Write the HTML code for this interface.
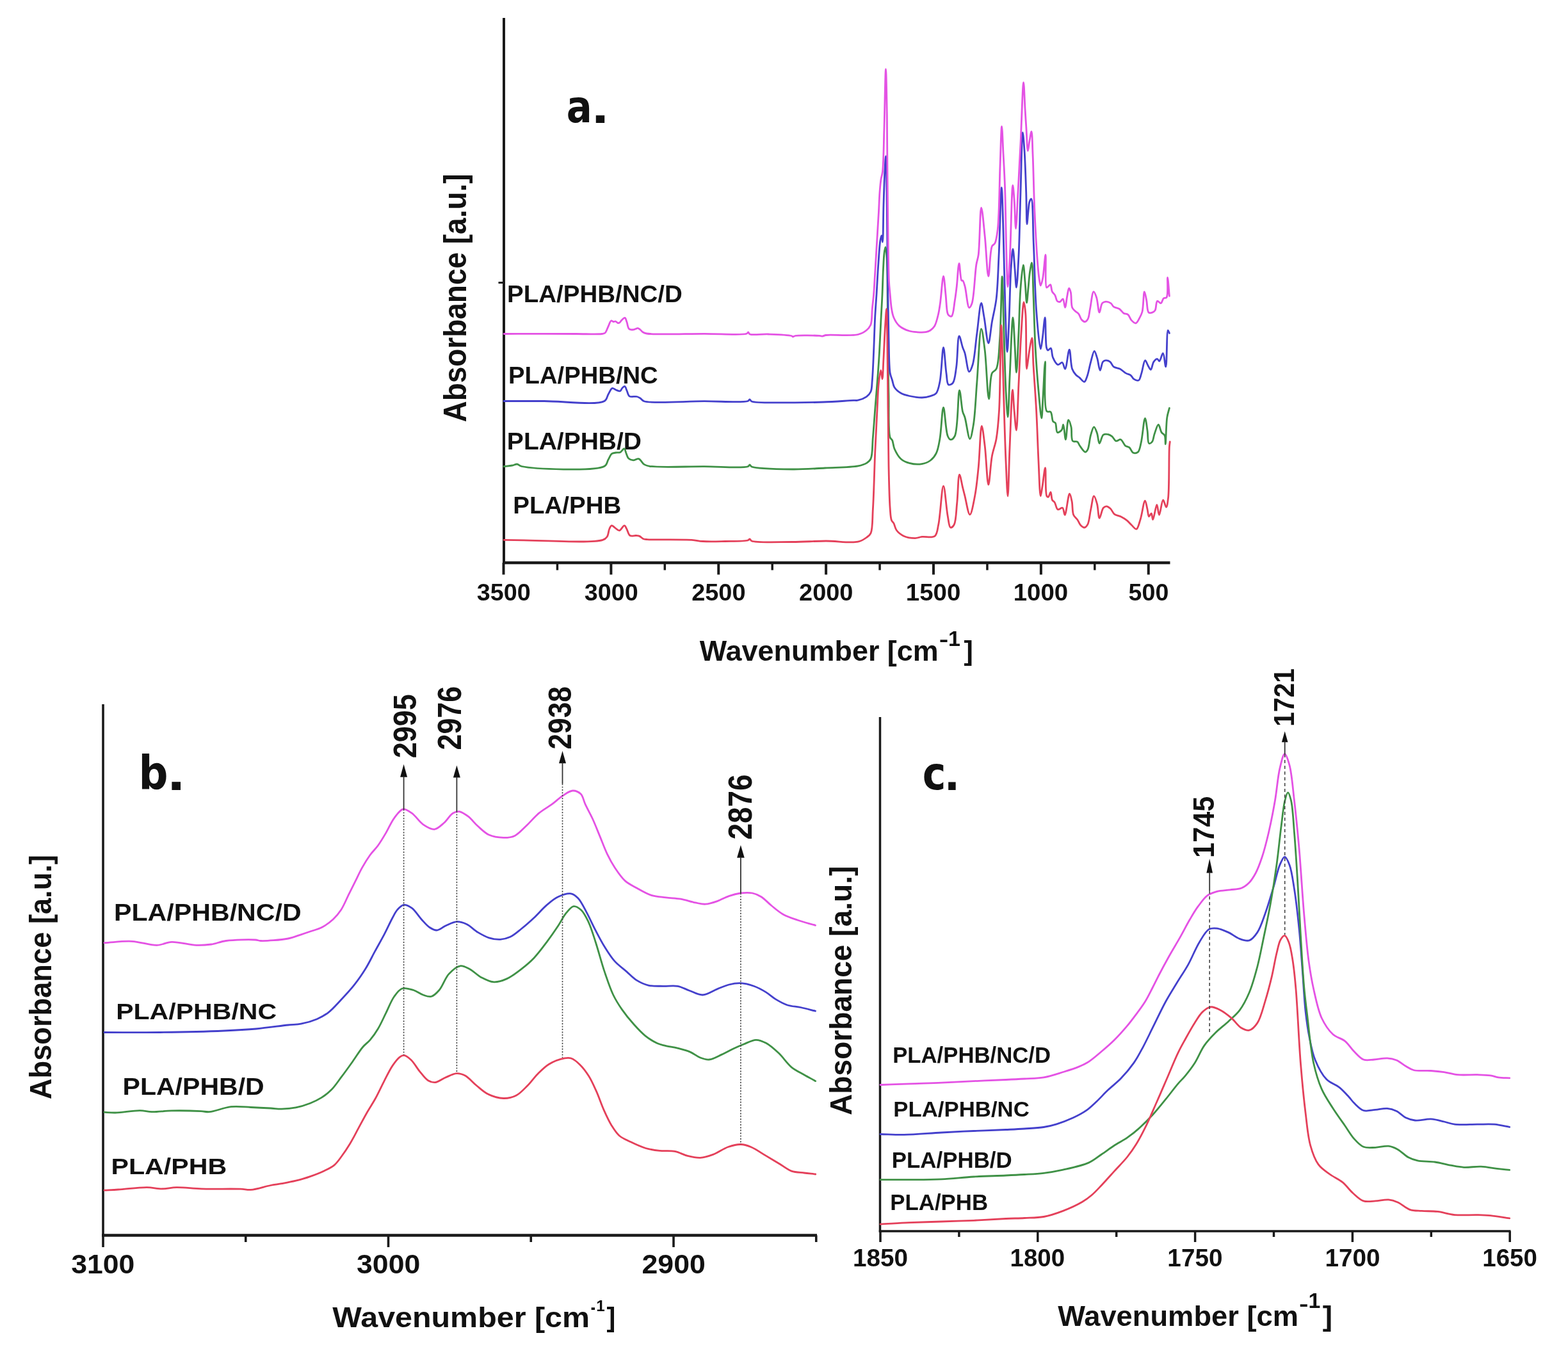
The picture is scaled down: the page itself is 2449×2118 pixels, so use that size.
<!DOCTYPE html>
<html><head><meta charset="utf-8"><title>FTIR spectra</title>
<style>html,body{margin:0;padding:0;background:#fff;}svg{display:block;}</style></head>
<body><svg width="2449" height="2118" viewBox="0 0 2449 2118" font-family="'Liberation Sans', sans-serif" font-weight="bold"><line x1="787.00" y1="28.00" x2="787.00" y2="881.00" stroke="#1a1a1a" stroke-width="4" />
<line x1="785.00" y1="879.00" x2="1827.50" y2="879.00" stroke="#1a1a1a" stroke-width="4.5" />
<line x1="778.50" y1="441.50" x2="787.00" y2="441.50" stroke="#1a1a1a" stroke-width="3" />
<line x1="786.50" y1="879.00" x2="786.50" y2="897.50" stroke="#1a1a1a" stroke-width="4" />
<line x1="954.38" y1="879.00" x2="954.38" y2="897.50" stroke="#1a1a1a" stroke-width="4" />
<line x1="1122.25" y1="879.00" x2="1122.25" y2="897.50" stroke="#1a1a1a" stroke-width="4" />
<line x1="1290.12" y1="879.00" x2="1290.12" y2="897.50" stroke="#1a1a1a" stroke-width="4" />
<line x1="1458.00" y1="879.00" x2="1458.00" y2="897.50" stroke="#1a1a1a" stroke-width="4" />
<line x1="1625.88" y1="879.00" x2="1625.88" y2="897.50" stroke="#1a1a1a" stroke-width="4" />
<line x1="1793.75" y1="879.00" x2="1793.75" y2="897.50" stroke="#1a1a1a" stroke-width="4" />
<line x1="870.44" y1="879.00" x2="870.44" y2="890.50" stroke="#1a1a1a" stroke-width="3.5" />
<line x1="1038.31" y1="879.00" x2="1038.31" y2="890.50" stroke="#1a1a1a" stroke-width="3.5" />
<line x1="1206.19" y1="879.00" x2="1206.19" y2="890.50" stroke="#1a1a1a" stroke-width="3.5" />
<line x1="1374.06" y1="879.00" x2="1374.06" y2="890.50" stroke="#1a1a1a" stroke-width="3.5" />
<line x1="1541.94" y1="879.00" x2="1541.94" y2="890.50" stroke="#1a1a1a" stroke-width="3.5" />
<line x1="1709.81" y1="879.00" x2="1709.81" y2="890.50" stroke="#1a1a1a" stroke-width="3.5" />
<text x="744.88" y="937.78" font-size="37.21" textLength="83.91" lengthAdjust="spacingAndGlyphs" fill="#111">3500</text>
<text x="912.76" y="937.78" font-size="37.21" textLength="83.91" lengthAdjust="spacingAndGlyphs" fill="#111">3000</text>
<text x="1080.19" y="937.84" font-size="37.29" textLength="84.37" lengthAdjust="spacingAndGlyphs" fill="#111">2500</text>
<text x="1248.06" y="937.84" font-size="37.29" textLength="84.37" lengthAdjust="spacingAndGlyphs" fill="#111">2000</text>
<text x="1414.83" y="937.84" font-size="37.29" textLength="85.50" lengthAdjust="spacingAndGlyphs" fill="#111">1500</text>
<text x="1582.70" y="937.84" font-size="37.29" textLength="85.50" lengthAdjust="spacingAndGlyphs" fill="#111">1000</text>
<text x="1762.59" y="937.84" font-size="37.29" textLength="62.70" lengthAdjust="spacingAndGlyphs" fill="#111">500</text>
<line x1="161.00" y1="1100.00" x2="161.00" y2="1931.00" stroke="#1a1a1a" stroke-width="3.6" />
<line x1="159.00" y1="1929.50" x2="1276.00" y2="1929.50" stroke="#1a1a1a" stroke-width="4.6" />
<line x1="161.00" y1="1929.50" x2="161.00" y2="1948.00" stroke="#1a1a1a" stroke-width="3.6" />
<line x1="606.50" y1="1929.50" x2="606.50" y2="1948.00" stroke="#1a1a1a" stroke-width="3.6" />
<line x1="1052.00" y1="1929.50" x2="1052.00" y2="1948.00" stroke="#1a1a1a" stroke-width="3.6" />
<line x1="383.75" y1="1929.50" x2="383.75" y2="1940.00" stroke="#1a1a1a" stroke-width="3.6" />
<line x1="829.25" y1="1929.50" x2="829.25" y2="1940.00" stroke="#1a1a1a" stroke-width="3.6" />
<line x1="1274.75" y1="1929.50" x2="1274.75" y2="1940.00" stroke="#1a1a1a" stroke-width="3.6" />
<text x="111.18" y="1988.53" font-size="41.72" textLength="99.15" lengthAdjust="spacingAndGlyphs" fill="#111">3100</text>
<text x="556.98" y="1988.53" font-size="41.72" textLength="99.36" lengthAdjust="spacingAndGlyphs" fill="#111">3000</text>
<text x="1002.45" y="1988.59" font-size="41.81" textLength="99.38" lengthAdjust="spacingAndGlyphs" fill="#111">2900</text>
<line x1="1374.50" y1="1120.00" x2="1374.50" y2="1924.50" stroke="#1a1a1a" stroke-width="3.5" />
<line x1="1372.80" y1="1923.00" x2="2359.50" y2="1923.00" stroke="#1a1a1a" stroke-width="3.5" />
<line x1="1375.00" y1="1923.00" x2="1375.00" y2="1940.00" stroke="#1a1a1a" stroke-width="3.5" />
<line x1="1620.80" y1="1923.00" x2="1620.80" y2="1940.00" stroke="#1a1a1a" stroke-width="3.5" />
<line x1="1866.60" y1="1923.00" x2="1866.60" y2="1940.00" stroke="#1a1a1a" stroke-width="3.5" />
<line x1="2112.40" y1="1923.00" x2="2112.40" y2="1940.00" stroke="#1a1a1a" stroke-width="3.5" />
<line x1="2358.20" y1="1923.00" x2="2358.20" y2="1940.00" stroke="#1a1a1a" stroke-width="3.5" />
<line x1="1497.90" y1="1923.00" x2="1497.90" y2="1932.00" stroke="#1a1a1a" stroke-width="3.5" />
<line x1="1743.70" y1="1923.00" x2="1743.70" y2="1932.00" stroke="#1a1a1a" stroke-width="3.5" />
<line x1="1989.50" y1="1923.00" x2="1989.50" y2="1932.00" stroke="#1a1a1a" stroke-width="3.5" />
<line x1="2235.30" y1="1923.00" x2="2235.30" y2="1932.00" stroke="#1a1a1a" stroke-width="3.5" />
<text x="1331.96" y="1978.42" font-size="38.42" textLength="86.13" lengthAdjust="spacingAndGlyphs" fill="#111">1850</text>
<text x="1577.58" y="1978.42" font-size="38.42" textLength="85.60" lengthAdjust="spacingAndGlyphs" fill="#111">1800</text>
<text x="1823.36" y="1978.42" font-size="38.42" textLength="86.13" lengthAdjust="spacingAndGlyphs" fill="#111">1750</text>
<text x="2069.56" y="1978.42" font-size="38.42" textLength="86.02" lengthAdjust="spacingAndGlyphs" fill="#111">1700</text>
<text x="2315.28" y="1978.42" font-size="38.42" textLength="85.60" lengthAdjust="spacingAndGlyphs" fill="#111">1650</text>
<text x="884.86" y="191.31" font-size="70.01" font-family="'DejaVu Sans Condensed', 'DejaVu Sans', sans-serif" textLength="39.97" lengthAdjust="spacingAndGlyphs" fill="#111">a</text>
<text x="922.92" y="192.30" font-size="62.97" font-family="'DejaVu Sans Condensed', 'DejaVu Sans', sans-serif" textLength="28.95" lengthAdjust="spacingAndGlyphs" fill="#111">.</text>
<text x="216.40" y="1232.76" font-size="73.65" font-family="'DejaVu Sans Condensed', 'DejaVu Sans', sans-serif" textLength="45.96" lengthAdjust="spacingAndGlyphs" fill="#111">b</text>
<text x="260.41" y="1233.80" font-size="67.74" font-family="'DejaVu Sans Condensed', 'DejaVu Sans', sans-serif" textLength="29.38" lengthAdjust="spacingAndGlyphs" fill="#111">.</text>
<text x="1440.85" y="1233.28" font-size="71.92" font-family="'DejaVu Sans Condensed', 'DejaVu Sans', sans-serif" textLength="36.69" lengthAdjust="spacingAndGlyphs" fill="#111">c</text>
<text x="1474.63" y="1234.30" font-size="66.68" font-family="'DejaVu Sans Condensed', 'DejaVu Sans', sans-serif" textLength="24.85" lengthAdjust="spacingAndGlyphs" fill="#111">.</text>
<g transform="rotate(-90)"><text x="-659.54" y="728.00" font-size="49.42" textLength="388.12" lengthAdjust="spacingAndGlyphs" fill="#111">Absorbance [a.u.]</text></g>
<g transform="rotate(-90)"><text x="-1717.13" y="80.40" font-size="48.69" textLength="382.07" lengthAdjust="spacingAndGlyphs" fill="#111">Absorbance [a.u.]</text></g>
<g transform="rotate(-90)"><text x="-1741.95" y="1329.80" font-size="47.68" textLength="389.34" lengthAdjust="spacingAndGlyphs" fill="#111">Absorbance [a.u.]</text></g>
<text x="1092.86" y="1032.20" font-size="45.20" textLength="372.92" lengthAdjust="spacingAndGlyphs" fill="#111">Wavenumber [cm</text>
<text x="1466.79" y="1009.27" font-size="31.90" textLength="14.56" lengthAdjust="spacingAndGlyphs" fill="#111">-</text>
<text x="1490.50" y="1008.90" font-size="34.01" text-anchor="middle" fill="#111">1</text>
<text x="1505.47" y="1030.71" font-size="42.38" textLength="14.34" lengthAdjust="spacingAndGlyphs" fill="#111">]</text>
<text x="519.35" y="2073.30" font-size="45.20" textLength="401.64" lengthAdjust="spacingAndGlyphs" fill="#111">Wavenumber [cm</text>
<text x="922.65" y="2051.57" font-size="31.90" textLength="7.21" lengthAdjust="spacingAndGlyphs" fill="#111">-</text>
<text x="937.95" y="2047.70" font-size="24.27" text-anchor="middle" fill="#111">1</text>
<text x="947.49" y="2072.09" font-size="42.91" textLength="13.84" lengthAdjust="spacingAndGlyphs" fill="#111">]</text>
<text x="1652.16" y="2071.10" font-size="45.20" textLength="375.84" lengthAdjust="spacingAndGlyphs" fill="#111">Wavenumber [cm</text>
<text x="2029.09" y="2047.17" font-size="31.90" textLength="14.56" lengthAdjust="spacingAndGlyphs" fill="#111">-</text>
<text x="2052.95" y="2043.30" font-size="33.87" text-anchor="middle" fill="#111">1</text>
<text x="2065.74" y="2070.87" font-size="43.99" textLength="15.35" lengthAdjust="spacingAndGlyphs" fill="#111">]</text>
<text x="792.13" y="472.00" font-size="37.50" textLength="273.69" lengthAdjust="spacingAndGlyphs" fill="#111">PLA/PHB/NC/D</text>
<text x="794.14" y="598.90" font-size="37.50" textLength="233.60" lengthAdjust="spacingAndGlyphs" fill="#111">PLA/PHB/NC</text>
<text x="791.89" y="702.20" font-size="36.92" textLength="210.15" lengthAdjust="spacingAndGlyphs" fill="#111">PLA/PHB/D</text>
<text x="801.32" y="802.00" font-size="36.48" textLength="169.02" lengthAdjust="spacingAndGlyphs" fill="#111">PLA/PHB</text>
<text x="178.05" y="1438.30" font-size="36.63" textLength="292.58" lengthAdjust="spacingAndGlyphs" fill="#111">PLA/PHB/NC/D</text>
<text x="181.15" y="1592.30" font-size="35.90" textLength="250.97" lengthAdjust="spacingAndGlyphs" fill="#111">PLA/PHB/NC</text>
<text x="191.55" y="1709.80" font-size="36.48" textLength="221.17" lengthAdjust="spacingAndGlyphs" fill="#111">PLA/PHB/D</text>
<text x="173.45" y="1833.70" font-size="35.90" textLength="180.72" lengthAdjust="spacingAndGlyphs" fill="#111">PLA/PHB</text>
<text x="1394.18" y="1660.20" font-size="34.16" textLength="246.88" lengthAdjust="spacingAndGlyphs" fill="#111">PLA/PHB/NC/D</text>
<text x="1395.27" y="1743.90" font-size="34.01" textLength="212.58" lengthAdjust="spacingAndGlyphs" fill="#111">PLA/PHB/NC</text>
<text x="1392.77" y="1824.30" font-size="35.32" textLength="188.00" lengthAdjust="spacingAndGlyphs" fill="#111">PLA/PHB/D</text>
<text x="1390.27" y="1890.40" font-size="35.18" textLength="152.91" lengthAdjust="spacingAndGlyphs" fill="#111">PLA/PHB</text>
<g transform="rotate(-90)"><text x="-1184.16" y="650.01" font-size="50.56" textLength="99.91" lengthAdjust="spacingAndGlyphs" fill="#111">2995</text></g>
<g transform="rotate(-90)"><text x="-1171.45" y="720.10" font-size="51.69" textLength="99.57" lengthAdjust="spacingAndGlyphs" fill="#111">2976</text></g>
<g transform="rotate(-90)"><text x="-1170.53" y="892.05" font-size="49.33" textLength="98.39" lengthAdjust="spacingAndGlyphs" fill="#111">2938</text></g>
<g transform="rotate(-90)"><text x="-1311.49" y="1174.20" font-size="51.13" textLength="101.94" lengthAdjust="spacingAndGlyphs" fill="#111">2876</text></g>
<g transform="rotate(-90)"><text x="-1339.92" y="1895.75" font-size="46.15" textLength="96.23" lengthAdjust="spacingAndGlyphs" fill="#111">1745</text></g>
<g transform="rotate(-90)"><text x="-1134.87" y="2021.40" font-size="43.54" textLength="90.91" lengthAdjust="spacingAndGlyphs" fill="#111">1721</text></g>
<path d="M787.0,728.5 C791.3,728.0 796.3,727.7 800.0,727.0 C802.9,726.5 805.1,724.8 807.6,725.0 C810.1,725.2 810.9,727.6 815.0,728.5 C831.5,732.2 928.9,737.0 944.0,728.3 C948.6,725.7 948.0,721.3 950.0,718.0 C951.9,714.8 953.2,710.5 955.6,708.7 C957.4,707.3 959.8,707.4 962.0,707.0 C964.2,706.6 966.6,707.4 968.6,706.5 C970.9,705.5 973.4,700.3 975.0,700.7 C976.5,701.0 976.9,705.5 978.0,708.0 C979.1,710.6 979.8,714.2 981.7,716.0 C983.5,717.7 986.4,718.7 989.0,718.9 C991.7,719.1 994.9,715.9 997.6,716.7 C1000.7,717.6 1002.9,723.5 1006.0,725.4 C1008.8,727.1 1010.4,727.6 1015.0,728.3 C1028.8,730.5 1073.2,728.6 1100.0,728.7 C1123.9,728.8 1160.3,731.7 1168.0,728.7 C1169.9,728.0 1170.0,726.0 1171.0,726.0 C1172.0,726.0 1172.1,728.1 1174.0,729.0 C1181.4,732.4 1217.6,732.8 1237.6,733.0 C1255.5,733.2 1271.6,731.8 1288.6,731.0 C1305.7,730.1 1328.5,730.1 1340.0,727.9 C1346.0,726.7 1349.9,725.6 1353.4,723.4 C1356.2,721.6 1358.4,720.2 1360.0,716.7 C1363.1,710.1 1362.3,695.2 1363.4,683.2 C1364.6,669.4 1365.6,654.3 1366.8,638.6 C1368.2,621.0 1370.1,599.0 1371.3,582.8 C1372.2,570.2 1372.8,561.3 1373.5,549.3 C1374.3,535.5 1374.9,519.5 1375.7,504.6 C1376.4,489.7 1377.4,474.5 1378.0,460.0 C1378.6,446.3 1378.9,431.6 1379.5,420.0 C1380.0,411.0 1380.2,402.3 1381.0,396.0 C1381.5,391.9 1382.4,386.0 1383.0,386.0 C1383.8,386.0 1384.5,394.4 1385.0,402.0 C1386.3,420.8 1386.0,465.9 1386.5,500.0 C1387.0,537.1 1387.2,582.8 1388.0,616.2 C1388.6,641.6 1387.0,674.2 1390.2,683.2 C1391.1,685.8 1392.6,685.7 1393.6,687.7 C1395.1,690.9 1395.1,696.5 1397.0,701.0 C1399.3,706.2 1402.8,712.9 1407.0,716.7 C1410.8,720.1 1415.4,722.0 1420.4,723.4 C1426.2,725.0 1434.2,725.6 1440.0,724.6 C1445.0,723.8 1449.7,721.8 1453.4,719.0 C1457.1,716.2 1460.0,712.6 1462.3,707.9 C1465.2,702.0 1466.3,694.5 1467.9,685.5 C1470.3,672.4 1471.4,636.4 1473.5,636.4 C1475.5,636.4 1476.9,673.4 1480.2,681.0 C1481.5,684.1 1482.9,686.5 1484.6,686.7 C1486.5,686.9 1489.4,684.6 1491.3,681.0 C1496.6,670.8 1496.1,609.7 1498.5,609.6 C1500.2,609.6 1501.6,635.6 1503.6,643.1 C1504.7,647.1 1505.8,648.0 1507.0,652.0 C1509.3,659.5 1512.4,685.5 1514.8,685.5 C1516.8,685.5 1518.8,672.7 1520.4,663.2 C1523.1,647.0 1524.0,619.8 1525.9,596.3 C1528.0,570.2 1529.9,513.8 1532.6,513.7 C1534.3,513.6 1536.5,533.7 1538.2,547.1 C1540.7,567.2 1542.3,623.0 1544.5,623.0 C1546.1,623.0 1545.8,590.4 1549.4,582.9 C1551.2,579.3 1554.3,579.9 1556.1,576.2 C1560.1,567.9 1560.2,547.8 1561.6,529.3 C1563.6,502.7 1564.1,431.8 1565.2,431.8 C1566.2,431.8 1567.0,490.5 1568.0,520.0 C1569.0,549.8 1569.7,585.8 1571.0,610.0 C1571.9,626.5 1573.2,651.4 1574.1,651.4 C1575.2,651.4 1575.9,612.6 1577.0,590.0 C1578.4,562.0 1580.5,496.0 1582.0,496.0 C1583.1,496.0 1584.1,525.5 1585.0,540.0 C1585.9,554.1 1586.6,581.8 1587.5,581.8 C1588.6,581.8 1589.9,541.2 1591.0,520.0 C1592.1,497.4 1592.4,469.5 1594.0,450.0 C1595.1,436.0 1597.0,414.0 1598.2,414.0 C1599.3,414.0 1600.1,430.8 1601.0,440.0 C1602.0,450.3 1602.7,472.9 1603.6,472.9 C1604.4,472.9 1605.2,457.8 1606.0,450.0 C1606.8,441.9 1607.4,432.2 1608.5,425.0 C1609.4,419.5 1610.8,410.3 1611.6,410.4 C1613.1,410.5 1613.2,441.5 1614.0,460.0 C1615.0,483.6 1615.6,514.8 1617.0,540.7 C1618.3,564.7 1620.1,589.6 1622.0,610.0 C1623.5,626.1 1625.6,653.2 1626.8,653.2 C1627.8,653.2 1628.2,632.5 1629.0,620.0 C1630.0,604.0 1631.5,565.0 1632.4,565.0 C1633.5,565.0 1629.1,635.5 1634.9,642.3 C1636.5,644.2 1639.5,642.0 1641.0,643.5 C1643.4,645.8 1642.8,655.5 1644.7,658.2 C1645.7,659.7 1647.4,659.2 1648.4,660.7 C1650.2,663.4 1649.2,674.4 1651.5,675.4 C1653.1,676.1 1656.7,673.6 1658.2,671.7 C1659.9,669.6 1659.9,663.0 1660.7,663.1 C1662.0,663.2 1663.2,686.5 1664.4,686.5 C1665.8,686.5 1666.7,656.0 1668.7,655.8 C1669.9,655.7 1671.9,662.4 1673.0,666.8 C1674.5,672.8 1672.4,685.7 1675.4,688.9 C1677.1,690.7 1680.9,688.9 1682.8,690.2 C1684.6,691.4 1684.9,694.1 1686.5,696.3 C1688.7,699.3 1692.8,706.0 1695.1,706.1 C1696.6,706.1 1697.7,704.4 1698.8,702.4 C1701.1,698.1 1701.7,685.6 1703.7,679.1 C1705.2,674.3 1706.9,666.9 1708.6,666.8 C1710.2,666.7 1712.1,672.9 1713.5,676.7 C1715.1,681.3 1715.5,692.4 1717.2,692.6 C1718.8,692.8 1720.4,681.1 1723.3,679.1 C1725.3,677.7 1728.4,678.0 1730.7,678.5 C1732.9,678.9 1734.9,680.1 1736.8,681.6 C1739.1,683.4 1740.6,688.2 1743.0,688.9 C1745.2,689.5 1748.1,685.8 1750.3,686.5 C1753.1,687.4 1755.1,694.3 1757.7,696.3 C1759.6,697.8 1761.9,697.3 1763.8,698.8 C1766.1,700.6 1767.5,706.3 1770.0,707.3 C1772.1,708.2 1775.4,707.7 1777.3,706.1 C1780.1,703.8 1780.7,697.5 1782.2,691.4 C1784.6,681.7 1786.5,653.3 1788.4,653.3 C1789.7,653.3 1791.1,666.4 1792.1,673.0 C1793.1,679.5 1792.2,691.3 1794.5,692.6 C1795.7,693.3 1798.1,691.7 1799.4,690.2 C1801.4,687.8 1801.6,682.1 1803.1,677.9 C1804.8,673.2 1807.4,663.1 1809.3,663.1 C1811.0,663.1 1812.2,672.4 1814.2,675.4 C1815.6,677.6 1818.0,678.0 1819.1,680.3 C1820.6,683.5 1819.9,693.8 1820.3,693.8 C1821.0,693.8 1821.2,662.4 1822.8,652.1 C1823.7,645.9 1825.2,642.3 1826.4,637.4" fill="none" stroke="#3f9146" stroke-width="2.8" stroke-linejoin="round" stroke-linecap="round"/>
<path d="M787.0,626.5 C808.0,626.5 826.9,626.5 850.0,626.5 C878.2,626.5 931.6,633.7 944.0,626.5 C948.4,623.9 947.9,619.4 950.0,616.0 C952.0,612.7 953.9,607.1 956.3,606.4 C958.1,605.9 960.0,608.3 962.0,609.0 C964.1,609.8 966.9,611.4 968.6,610.8 C970.2,610.2 970.7,607.2 972.0,606.0 C973.2,604.9 974.8,603.2 975.9,603.5 C977.3,603.9 977.9,607.7 979.0,610.0 C980.3,612.7 980.6,617.2 983.0,618.8 C985.6,620.6 991.6,618.7 994.7,619.5 C996.9,620.1 998.2,620.9 1000.0,622.0 C1002.0,623.2 1002.5,625.5 1006.0,626.7 C1018.4,631.0 1071.2,626.7 1100.0,626.7 C1124.5,626.7 1160.3,629.3 1168.0,626.5 C1169.9,625.8 1170.0,624.0 1171.0,624.0 C1172.0,624.0 1172.1,626.2 1174.0,627.0 C1181.2,630.1 1215.6,628.7 1235.0,628.8 C1252.8,628.9 1269.4,628.6 1286.0,628.0 C1302.0,627.4 1324.3,625.8 1333.0,625.4 C1336.4,625.3 1337.4,625.8 1340.0,625.2 C1343.8,624.4 1349.9,622.1 1353.4,619.6 C1356.3,617.5 1358.5,615.2 1360.0,611.8 C1362.0,607.3 1361.6,601.3 1362.3,594.0 C1363.3,582.5 1363.9,565.0 1364.6,549.3 C1365.4,531.7 1365.9,509.7 1366.8,493.5 C1367.5,480.9 1368.2,472.3 1369.0,460.0 C1369.9,445.0 1370.9,425.2 1372.0,410.0 C1372.9,397.3 1373.7,382.2 1375.0,375.0 C1375.6,371.7 1376.4,368.0 1377.0,368.0 C1377.7,368.0 1378.1,378.0 1378.5,378.0 C1379.5,377.9 1379.4,339.1 1380.0,320.0 C1380.6,301.4 1381.2,279.0 1382.0,265.0 C1382.5,256.3 1383.1,244.0 1383.5,244.0 C1384.2,244.0 1384.6,277.1 1385.0,300.0 C1385.7,336.2 1385.9,398.9 1386.5,440.0 C1387.0,472.4 1387.3,501.2 1388.0,527.0 C1388.6,547.7 1388.3,571.4 1390.2,582.8 C1391.1,588.0 1392.5,590.3 1393.6,594.0 C1394.7,597.7 1394.9,601.8 1397.0,605.0 C1399.2,608.5 1403.2,611.8 1407.0,614.0 C1410.9,616.3 1415.4,617.4 1420.4,618.5 C1426.3,619.8 1434.1,621.1 1440.0,621.0 C1444.9,620.9 1449.5,619.9 1453.4,618.6 C1456.8,617.5 1460.0,616.8 1462.3,614.1 C1465.4,610.4 1466.3,603.9 1467.9,596.3 C1470.6,583.3 1471.7,542.7 1473.5,542.7 C1475.1,542.7 1476.4,572.2 1478.0,582.9 C1479.1,590.0 1478.7,599.1 1481.3,600.7 C1482.9,601.7 1486.2,600.5 1488.0,598.5 C1491.4,594.8 1492.1,583.6 1493.6,573.9 C1495.7,560.4 1495.6,525.1 1498.0,524.8 C1499.5,524.6 1501.9,537.8 1503.6,542.7 C1504.8,546.2 1505.8,547.7 1507.0,551.6 C1509.1,558.4 1511.1,580.3 1513.7,580.6 C1515.4,580.8 1517.6,574.7 1519.2,569.5 C1522.4,559.1 1523.6,536.6 1525.9,520.4 C1528.1,504.6 1530.4,473.6 1532.6,473.5 C1534.1,473.5 1535.5,487.3 1537.1,495.8 C1539.2,507.2 1541.7,536.0 1543.8,536.0 C1545.7,536.0 1547.4,513.8 1549.4,502.5 C1551.5,490.8 1554.4,480.6 1556.1,466.8 C1558.4,448.1 1558.8,424.9 1560.0,400.0 C1561.6,368.5 1563.0,293.0 1564.3,293.0 C1565.3,293.0 1566.2,334.4 1567.0,360.0 C1568.1,394.2 1568.8,445.4 1570.0,480.0 C1570.9,506.3 1572.1,549.6 1573.2,549.6 C1574.1,549.6 1575.1,518.5 1576.0,500.0 C1577.1,476.5 1577.6,440.4 1579.0,420.0 C1579.9,407.2 1581.0,389.0 1582.0,389.0 C1583.0,389.0 1584.1,409.8 1585.0,420.0 C1585.9,429.8 1586.6,449.0 1587.5,449.0 C1588.6,449.0 1590.0,419.2 1591.0,400.0 C1592.4,372.6 1592.9,332.7 1594.0,300.0 C1595.0,268.4 1595.9,207.0 1597.3,207.0 C1598.1,207.0 1599.2,223.7 1600.0,235.0 C1601.2,252.2 1602.0,279.7 1602.7,300.0 C1603.3,317.8 1603.2,350.0 1604.0,350.0 C1604.5,350.0 1605.3,336.2 1606.0,330.0 C1606.6,324.6 1606.8,318.4 1608.0,315.0 C1608.7,313.0 1609.9,310.5 1610.7,310.7 C1613.6,311.4 1613.1,354.5 1614.3,380.0 C1615.8,411.3 1616.3,454.5 1618.6,484.6 C1620.3,507.5 1623.4,544.9 1625.3,545.0 C1626.3,545.0 1627.1,536.0 1628.0,530.0 C1629.4,520.9 1631.1,495.9 1632.2,495.9 C1633.4,495.9 1632.6,535.6 1634.5,542.8 C1635.1,545.1 1635.6,546.9 1636.7,547.2 C1637.8,547.5 1640.0,543.5 1641.2,543.9 C1643.1,544.6 1642.6,554.0 1644.5,558.4 C1646.3,562.6 1649.5,568.9 1652.3,569.6 C1654.4,570.1 1657.2,565.6 1659.0,566.2 C1661.2,567.0 1662.1,576.4 1663.5,576.3 C1665.9,576.1 1668.3,546.0 1670.2,546.1 C1672.0,546.2 1672.1,569.4 1674.6,576.3 C1676.1,580.4 1678.1,582.9 1680.2,585.2 C1681.9,587.1 1683.8,588.0 1685.8,589.6 C1688.2,591.6 1691.5,596.7 1693.6,596.3 C1695.6,595.9 1696.7,591.1 1698.1,587.4 C1700.2,581.7 1701.7,572.0 1703.7,565.1 C1705.4,559.1 1707.4,548.4 1709.2,548.3 C1710.7,548.3 1712.3,555.2 1713.7,559.5 C1715.4,564.9 1716.6,578.4 1718.2,578.5 C1719.6,578.6 1720.5,567.5 1722.6,565.1 C1723.9,563.6 1725.4,563.0 1727.1,562.9 C1729.1,562.8 1731.9,563.7 1733.8,565.1 C1736.1,566.8 1736.9,571.0 1739.4,572.9 C1742.0,574.8 1746.3,574.7 1749.4,576.3 C1752.6,578.0 1755.3,581.2 1758.3,582.9 C1760.9,584.4 1764.1,584.7 1766.2,586.3 C1768.1,587.8 1768.7,590.6 1770.6,591.9 C1772.7,593.3 1776.4,595.1 1778.4,594.1 C1780.8,592.9 1781.4,587.2 1782.9,582.9 C1784.8,577.2 1786.4,563.2 1788.5,562.9 C1789.9,562.7 1791.4,568.2 1792.9,570.7 C1794.3,573.0 1796.0,577.6 1797.4,577.4 C1799.1,577.2 1799.8,568.0 1801.9,565.1 C1803.4,562.9 1805.9,560.5 1807.5,560.6 C1808.8,560.7 1809.7,564.2 1810.8,564.0 C1812.7,563.7 1814.8,551.5 1816.4,551.7 C1818.4,551.9 1819.6,573.0 1820.8,572.9 C1822.7,572.8 1822.0,516.4 1824.2,516.0 C1824.8,515.9 1825.7,518.9 1826.4,520.4" fill="none" stroke="#4440cc" stroke-width="2.8" stroke-linejoin="round" stroke-linecap="round"/>
<path d="M787.0,521.5 C808.0,521.4 830.2,521.3 850.0,521.3 C867.6,521.3 884.3,521.5 900.0,521.5 C914.1,521.5 933.1,522.5 940.0,521.5 C942.5,521.1 943.5,521.2 945.0,520.0 C947.1,518.2 948.4,513.2 950.0,510.0 C951.5,506.9 952.8,501.6 954.5,501.0 C955.6,500.6 956.8,502.3 958.0,502.5 C959.1,502.7 960.4,501.7 961.5,502.0 C962.7,502.3 963.9,504.3 965.0,504.5 C965.9,504.7 966.8,504.5 967.6,504.0 C968.8,503.3 969.7,501.2 971.0,500.0 C972.4,498.7 974.7,496.1 976.0,496.4 C977.4,496.8 978.0,500.5 979.0,503.0 C980.2,506.0 980.3,511.5 982.3,513.4 C983.8,514.9 986.7,515.0 988.5,515.0 C989.8,515.0 990.8,514.4 992.0,514.0 C993.3,513.6 994.9,512.4 996.2,512.6 C997.5,512.8 998.8,514.0 1000.0,515.0 C1001.4,516.1 1002.4,517.8 1004.0,518.8 C1005.7,519.9 1006.7,520.4 1010.0,521.0 C1022.2,523.2 1072.3,521.3 1100.0,521.3 C1123.7,521.3 1158.7,524.0 1166.0,521.3 C1167.7,520.7 1167.9,518.9 1168.7,519.0 C1169.5,519.1 1169.5,521.3 1171.0,522.0 C1175.1,524.0 1189.8,521.6 1200.0,522.0 C1211.4,522.4 1230.9,523.0 1236.0,524.5 C1237.5,524.9 1237.7,526.0 1238.7,526.0 C1239.7,526.0 1240.2,524.9 1242.0,524.5 C1247.7,523.3 1272.9,524.0 1279.7,524.4 C1282.3,524.5 1283.3,525.2 1285.0,525.0 C1286.7,524.8 1287.4,523.9 1290.0,523.5 C1298.0,522.2 1328.8,525.3 1340.0,522.5 C1346.1,521.0 1350.0,518.7 1353.4,515.8 C1356.4,513.3 1358.5,510.9 1360.0,506.9 C1362.3,501.0 1361.5,490.3 1362.3,482.3 C1363.0,474.7 1363.9,468.0 1364.6,460.0 C1365.4,450.7 1365.8,441.3 1366.5,430.0 C1367.4,415.5 1368.5,396.7 1369.5,380.0 C1370.5,363.3 1371.7,344.6 1372.5,330.0 C1373.1,318.7 1373.3,309.0 1374.0,300.0 C1374.6,292.7 1375.1,285.8 1376.0,280.0 C1376.7,275.5 1377.8,273.7 1378.5,268.0 C1380.1,254.6 1380.2,224.4 1381.0,200.0 C1381.9,171.6 1382.7,108.0 1383.5,108.0 C1384.2,108.0 1384.9,154.8 1385.3,180.0 C1385.8,207.9 1385.7,235.7 1386.0,268.0 C1386.4,307.6 1386.9,368.8 1387.5,400.0 C1387.8,417.2 1387.9,429.0 1388.5,440.0 C1388.9,447.8 1389.6,453.2 1390.2,460.0 C1390.9,467.2 1391.4,475.8 1392.5,482.3 C1393.4,487.4 1393.9,491.4 1395.8,495.7 C1397.8,500.4 1400.7,505.6 1404.7,509.1 C1408.8,512.8 1415.3,515.4 1420.4,517.0 C1424.7,518.4 1428.8,518.5 1433.0,518.8 C1437.3,519.1 1442.4,519.3 1446.0,518.6 C1448.7,518.1 1450.8,517.4 1453.0,516.0 C1455.4,514.5 1457.6,512.6 1459.5,509.6 C1462.3,505.1 1464.2,496.3 1465.7,490.0 C1467.0,484.4 1467.4,480.6 1468.4,474.0 C1470.0,463.2 1472.0,431.5 1473.5,431.5 C1474.8,431.5 1476.0,450.6 1477.0,460.0 C1478.0,469.2 1478.3,482.0 1479.5,487.3 C1480.0,489.6 1480.2,490.9 1481.3,492.0 C1482.4,493.1 1484.8,494.7 1486.2,494.0 C1489.2,492.4 1489.9,477.5 1491.3,469.5 C1492.6,461.9 1493.3,455.4 1494.3,447.0 C1495.5,436.5 1496.6,411.4 1498.0,411.4 C1499.2,411.4 1499.8,436.4 1501.9,438.2 C1502.4,438.6 1503.1,437.8 1503.6,438.2 C1504.9,439.1 1505.9,443.1 1507.0,447.0 C1509.2,454.5 1511.0,480.1 1513.7,480.6 C1515.0,480.9 1516.7,477.5 1518.0,474.0 C1521.5,464.2 1522.6,427.2 1524.8,413.7 C1525.9,406.7 1527.2,405.2 1528.2,398.0 C1530.3,382.5 1530.6,324.5 1532.6,324.4 C1534.2,324.3 1536.5,352.9 1538.2,369.0 C1540.3,388.1 1541.8,431.5 1543.8,431.5 C1545.6,431.5 1545.9,391.7 1549.4,384.6 C1550.7,382.0 1552.6,382.5 1553.8,380.2 C1556.2,375.8 1557.1,368.0 1558.3,357.9 C1560.8,336.9 1560.9,289.0 1562.0,260.0 C1562.9,236.8 1563.7,197.3 1564.6,197.3 C1565.4,197.3 1566.2,225.1 1567.0,240.0 C1567.9,256.2 1568.8,270.7 1569.5,290.9 C1570.6,320.4 1571.1,371.0 1572.0,400.0 C1572.6,419.2 1573.1,448.0 1574.0,448.0 C1574.9,448.0 1576.3,421.1 1577.3,402.5 C1578.9,373.2 1580.2,289.4 1581.8,289.3 C1582.5,289.3 1583.3,301.7 1584.0,310.0 C1585.0,322.5 1585.7,357.0 1586.6,357.0 C1587.6,357.0 1588.9,320.4 1590.0,300.0 C1591.3,276.5 1592.6,250.8 1594.0,224.0 C1595.5,194.0 1597.3,128.6 1598.6,128.6 C1599.5,128.6 1600.2,157.1 1601.0,170.0 C1601.7,181.2 1602.3,190.9 1603.0,201.6 C1603.7,212.8 1604.3,235.6 1605.4,235.7 C1606.1,235.7 1607.0,225.1 1608.0,220.0 C1608.9,215.0 1610.2,205.3 1611.0,205.4 C1612.2,205.5 1612.4,225.7 1613.0,240.0 C1614.1,263.3 1614.6,302.3 1616.0,332.0 C1617.3,360.1 1619.3,395.3 1620.8,413.7 C1621.6,423.1 1622.1,429.1 1623.0,435.0 C1623.7,439.3 1624.4,446.0 1625.3,446.0 C1626.2,446.0 1627.6,439.8 1628.6,435.0 C1630.4,426.4 1632.0,398.0 1633.0,398.0 C1634.2,398.1 1631.7,447.3 1634.5,449.0 C1635.1,449.4 1635.9,448.4 1636.7,447.9 C1637.9,447.1 1639.6,444.3 1640.6,444.6 C1642.1,445.1 1641.9,452.7 1643.4,455.7 C1644.6,458.0 1646.7,459.1 1647.9,461.3 C1649.3,463.8 1649.5,468.7 1651.2,470.2 C1652.4,471.3 1654.3,471.7 1655.7,471.3 C1657.3,470.8 1658.9,466.6 1660.1,466.9 C1661.9,467.4 1662.4,480.3 1663.5,480.3 C1664.7,480.3 1665.7,467.8 1666.8,462.4 C1667.7,457.9 1668.5,450.2 1669.6,450.1 C1670.4,450.0 1671.7,453.8 1672.4,456.8 C1673.7,462.2 1672.6,475.4 1674.6,480.3 C1675.7,483.0 1677.4,484.1 1679.1,485.8 C1680.8,487.5 1683.1,488.3 1684.7,490.3 C1686.6,492.6 1687.3,497.1 1689.2,499.2 C1690.8,500.9 1693.0,502.8 1694.7,502.6 C1696.4,502.4 1698.0,500.3 1699.2,498.1 C1701.1,494.6 1701.3,488.4 1702.5,482.5 C1704.1,474.8 1705.8,456.0 1708.1,455.7 C1709.5,455.5 1711.3,460.8 1712.6,464.6 C1714.6,470.5 1715.4,488.0 1717.1,488.1 C1718.4,488.2 1719.3,476.2 1721.5,473.6 C1722.8,472.1 1724.2,471.5 1726.0,471.3 C1728.4,471.0 1732.6,472.1 1734.9,473.6 C1736.9,474.9 1737.4,477.8 1739.4,479.2 C1741.7,480.9 1745.7,480.8 1748.3,482.5 C1750.9,484.2 1752.6,487.7 1755.0,489.2 C1757.1,490.5 1759.8,489.9 1761.7,491.4 C1764.0,493.2 1765.1,498.1 1767.3,500.4 C1769.2,502.4 1772.0,505.2 1774.0,504.8 C1776.2,504.4 1778.0,499.9 1779.6,497.0 C1781.3,494.0 1782.8,491.4 1784.0,487.0 C1786.0,479.6 1785.9,455.8 1787.4,455.7 C1788.4,455.6 1789.7,464.2 1790.7,469.1 C1791.9,474.9 1791.5,485.9 1794.1,488.1 C1795.5,489.3 1797.9,488.7 1799.6,488.1 C1801.3,487.5 1802.9,486.5 1804.1,484.7 C1806.0,481.7 1805.4,471.1 1807.5,470.2 C1808.9,469.6 1811.4,474.0 1813.0,473.6 C1814.9,473.1 1815.7,467.2 1817.5,465.8 C1818.8,464.8 1820.9,466.0 1822.0,464.6 C1825.0,461.0 1822.8,433.4 1823.6,433.4 C1824.3,433.4 1825.5,452.7 1826.4,462.4" fill="none" stroke="#e452e4" stroke-width="2.8" stroke-linejoin="round" stroke-linecap="round"/>
<path d="M787.0,843.4 C838.5,843.4 923.7,849.3 941.4,843.4 C945.6,842.0 946.6,840.7 948.3,838.2 C950.4,835.2 950.3,829.1 951.8,826.0 C952.8,823.8 953.8,821.1 955.3,820.8 C956.8,820.5 958.6,823.1 960.5,824.3 C962.6,825.7 965.1,829.0 967.4,828.7 C970.0,828.4 973.2,820.6 975.2,820.8 C976.7,820.9 977.5,823.9 978.7,826.0 C980.4,828.8 981.2,834.8 983.9,836.5 C986.3,838.0 990.8,836.3 993.5,836.5 C995.5,836.7 997.0,836.7 998.7,837.4 C1000.7,838.2 1002.7,840.8 1004.8,841.7 C1006.7,842.5 1007.8,842.4 1010.9,842.6 C1021.5,843.4 1064.9,842.4 1080.3,843.4 C1088.0,843.9 1090.9,845.1 1097.7,845.5 C1107.3,846.1 1120.8,845.7 1132.5,845.5 C1144.3,845.3 1162.8,845.7 1168.0,844.0 C1169.7,843.5 1170.0,841.9 1171.0,842.0 C1172.0,842.1 1172.1,844.2 1174.0,845.0 C1181.4,848.2 1217.3,846.5 1237.5,846.5 C1255.8,846.5 1272.7,845.0 1290.0,845.0 C1306.9,845.0 1328.8,848.7 1340.0,846.2 C1346.1,844.8 1349.9,842.1 1353.4,839.5 C1356.2,837.5 1358.3,836.4 1360.0,832.8 C1363.3,825.6 1362.4,810.1 1363.4,794.8 C1364.9,771.3 1365.6,733.1 1366.8,705.5 C1367.8,681.6 1369.1,658.1 1370.1,638.6 C1370.9,623.5 1371.2,609.5 1372.4,598.4 C1373.3,590.5 1374.7,578.3 1375.7,578.3 C1376.5,578.3 1377.4,592.0 1378.0,592.0 C1379.0,591.9 1379.3,571.9 1380.0,560.0 C1380.8,545.2 1381.6,524.2 1382.5,510.0 C1383.2,499.4 1384.1,482.3 1384.6,482.3 C1385.3,482.3 1385.5,508.7 1385.8,527.0 C1386.3,555.8 1386.5,603.5 1386.9,638.6 C1387.2,670.0 1387.4,700.3 1388.0,727.9 C1388.5,751.8 1389.0,779.6 1390.2,794.8 C1390.8,802.7 1390.9,808.9 1392.5,812.7 C1393.4,814.8 1394.7,815.2 1395.8,817.1 C1397.4,819.9 1397.9,825.0 1400.3,828.3 C1402.9,831.8 1407.0,835.2 1411.4,837.2 C1416.4,839.5 1424.1,840.6 1429.3,840.6 C1433.3,840.6 1435.9,838.9 1440.0,838.4 C1445.6,837.7 1455.7,840.6 1460.0,837.3 C1464.1,834.1 1464.0,827.3 1465.7,819.5 C1468.8,805.4 1470.9,759.2 1473.5,759.2 C1475.8,759.2 1477.9,794.1 1480.2,806.0 C1481.6,813.5 1482.2,823.2 1484.6,824.0 C1486.1,824.5 1488.7,822.2 1490.2,819.5 C1493.4,813.7 1493.4,798.0 1494.7,786.0 C1496.2,772.2 1496.5,741.5 1498.5,741.3 C1499.9,741.2 1502.1,755.4 1503.6,761.4 C1504.8,766.3 1505.6,769.5 1507.0,774.8 C1509.0,782.6 1512.2,803.8 1514.8,803.8 C1517.4,803.8 1520.5,785.6 1522.6,774.8 C1525.2,761.6 1526.5,746.5 1528.2,730.2 C1530.2,710.6 1531.2,665.5 1533.3,665.4 C1534.7,665.3 1536.7,684.5 1538.2,696.7 C1540.3,713.5 1541.8,757.0 1543.8,757.0 C1545.5,757.0 1547.0,725.2 1549.4,712.3 C1551.3,702.2 1554.3,695.6 1556.1,685.5 C1558.3,672.6 1559.3,659.8 1560.5,641.0 C1562.5,608.5 1562.5,508.0 1563.7,508.0 C1564.4,508.0 1565.3,540.8 1566.0,560.0 C1566.9,584.0 1567.5,614.2 1568.3,641.0 C1569.1,667.5 1569.9,696.0 1571.0,720.0 C1571.9,740.0 1573.1,775.0 1574.0,775.0 C1575.1,775.0 1575.8,726.2 1577.0,700.0 C1578.3,671.1 1580.0,609.0 1581.5,609.0 C1582.3,609.0 1583.0,629.6 1584.0,640.0 C1585.0,650.6 1586.4,672.0 1587.4,672.0 C1588.9,672.0 1589.8,624.6 1591.0,600.0 C1592.3,574.0 1593.4,543.3 1595.0,520.0 C1596.2,502.0 1597.6,472.1 1599.0,472.0 C1599.9,472.0 1601.1,481.7 1601.8,490.0 C1603.4,508.0 1602.1,575.9 1603.6,576.0 C1604.2,576.0 1605.2,565.6 1606.0,560.0 C1606.9,553.7 1607.9,545.8 1609.0,540.0 C1609.9,535.5 1611.1,527.9 1611.8,528.0 C1613.2,528.1 1613.1,554.2 1614.0,570.0 C1615.2,590.6 1617.3,616.7 1618.6,641.0 C1620.0,666.6 1620.8,696.1 1622.0,720.0 C1623.0,739.9 1623.8,774.7 1625.3,774.8 C1626.1,774.8 1627.0,765.8 1628.0,760.0 C1629.4,751.9 1631.4,730.6 1632.5,730.7 C1633.9,730.8 1632.1,770.7 1634.9,774.9 C1635.6,776.0 1636.6,776.4 1637.4,776.1 C1638.7,775.6 1640.0,768.6 1641.0,768.7 C1642.2,768.9 1642.0,778.2 1643.5,781.0 C1644.5,782.8 1646.0,783.0 1647.2,784.7 C1649.0,787.3 1649.7,794.6 1652.1,795.7 C1654.1,796.6 1657.7,792.4 1659.5,793.3 C1661.7,794.4 1661.8,804.4 1663.1,804.3 C1665.3,804.2 1668.3,771.3 1670.5,771.2 C1671.8,771.2 1673.2,778.8 1674.2,783.5 C1675.4,789.5 1674.6,799.3 1676.7,804.3 C1678.1,807.7 1681.0,809.1 1682.8,811.7 C1684.7,814.4 1685.7,818.2 1687.7,820.3 C1689.4,822.1 1691.9,824.2 1693.8,824.0 C1695.6,823.8 1697.4,821.6 1698.8,819.1 C1701.4,814.4 1702.0,803.3 1703.7,795.7 C1705.3,788.6 1706.7,775.0 1708.6,774.9 C1710.1,774.8 1712.2,782.4 1713.5,787.2 C1715.2,793.4 1715.4,809.1 1717.2,809.3 C1718.8,809.5 1720.7,796.2 1723.3,793.3 C1724.8,791.7 1726.5,790.7 1728.2,790.8 C1730.2,790.9 1732.5,792.8 1734.4,794.5 C1736.7,796.6 1737.8,801.0 1740.5,803.1 C1743.1,805.1 1747.1,805.2 1750.3,806.8 C1753.6,808.5 1757.2,810.6 1760.1,812.9 C1762.9,815.1 1765.0,818.0 1767.5,820.3 C1769.9,822.5 1772.8,826.9 1774.9,826.4 C1777.6,825.7 1779.1,817.5 1781.0,811.7 C1783.7,803.6 1786.3,782.2 1788.4,782.2 C1789.8,782.2 1791.0,791.4 1792.1,795.7 C1793.0,799.6 1793.2,806.5 1794.5,806.8 C1795.5,807.0 1797.2,801.7 1798.2,801.9 C1799.5,802.2 1799.7,811.7 1800.7,811.7 C1802.3,811.7 1805.1,788.4 1806.8,788.4 C1808.2,788.4 1809.1,804.3 1810.5,804.3 C1812.2,804.3 1814.4,781.2 1816.6,781.0 C1818.2,780.9 1820.2,792.2 1821.5,792.1 C1823.0,791.9 1823.8,784.2 1824.6,777.3 C1826.4,761.3 1825.5,710.0 1826.4,697.5 C1826.7,693.7 1827.0,692.5 1827.3,690.0" fill="none" stroke="#e4405a" stroke-width="2.8" stroke-linejoin="round" stroke-linecap="round"/>
<path d="M163.0,1472.6 C177.3,1471.8 192.1,1469.6 206.0,1470.3 C219.4,1471.0 233.7,1476.7 245.0,1476.4 C253.7,1476.1 259.3,1471.8 268.0,1471.4 C279.2,1470.9 295.4,1476.0 306.7,1476.4 C315.4,1476.7 322.3,1476.1 330.0,1475.0 C337.7,1473.9 343.9,1470.7 353.0,1469.5 C365.6,1467.8 390.0,1467.3 399.0,1468.0 C402.8,1468.3 403.3,1469.3 407.0,1469.5 C415.6,1469.9 438.5,1468.2 450.0,1466.0 C458.0,1464.4 463.8,1461.8 470.0,1459.8 C475.4,1458.1 479.8,1456.6 485.0,1454.8 C490.6,1452.8 496.9,1451.5 502.6,1448.5 C508.7,1445.3 515.1,1440.7 520.2,1436.0 C525.1,1431.5 528.9,1426.9 532.8,1421.0 C537.4,1413.9 541.3,1403.7 545.3,1395.8 C548.8,1388.7 552.0,1382.4 555.4,1375.7 C558.7,1369.0 561.7,1362.2 565.4,1355.6 C569.2,1348.8 573.6,1341.6 578.0,1335.5 C582.0,1330.0 586.5,1326.0 590.5,1320.5 C594.9,1314.4 599.0,1307.4 603.1,1300.4 C607.4,1293.1 610.9,1284.1 615.7,1277.8 C619.9,1272.3 624.6,1264.9 629.5,1264.0 C633.8,1263.2 638.7,1267.0 643.3,1270.2 C649.2,1274.3 654.6,1283.5 660.9,1287.8 C666.4,1291.5 672.9,1295.8 678.4,1295.3 C683.8,1294.8 688.8,1289.3 693.5,1285.3 C698.5,1281.0 702.6,1273.0 707.3,1270.2 C710.6,1268.2 713.9,1267.2 717.4,1267.7 C721.7,1268.3 726.7,1271.9 731.2,1275.2 C736.4,1279.1 740.8,1285.5 746.2,1290.3 C751.7,1295.2 757.2,1301.1 763.8,1304.1 C770.5,1307.2 779.3,1308.3 786.4,1308.4 C792.6,1308.5 798.5,1308.0 804.0,1305.4 C810.3,1302.4 815.6,1295.8 821.6,1290.3 C828.2,1284.2 834.7,1276.0 841.7,1270.2 C848.2,1264.8 855.4,1261.1 861.8,1256.4 C867.9,1251.9 873.5,1246.3 879.3,1242.6 C884.4,1239.4 889.6,1235.2 894.4,1235.0 C898.7,1234.8 903.8,1237.0 907.0,1240.1 C910.7,1243.7 911.5,1250.7 914.3,1256.6 C917.6,1263.6 922.1,1271.5 925.8,1279.5 C929.8,1288.2 933.4,1297.8 937.2,1306.9 C941.0,1316.1 944.5,1326.0 948.6,1334.4 C952.2,1341.9 955.7,1348.3 960.1,1355.0 C964.8,1362.0 970.0,1370.1 976.1,1375.6 C981.6,1380.6 987.9,1383.3 994.4,1387.0 C1001.5,1391.0 1009.5,1395.9 1017.3,1398.4 C1024.7,1400.8 1032.5,1400.9 1040.1,1401.9 C1047.7,1402.9 1055.4,1402.9 1063.0,1404.2 C1070.7,1405.5 1078.9,1408.5 1085.9,1409.9 C1091.7,1411.0 1096.4,1412.5 1101.9,1412.2 C1107.8,1411.9 1114.2,1409.7 1120.2,1407.6 C1126.4,1405.5 1132.3,1401.7 1138.5,1399.6 C1144.5,1397.5 1150.7,1395.8 1156.8,1395.0 C1162.9,1394.3 1169.5,1393.9 1175.1,1395.0 C1180.1,1396.0 1184.4,1397.9 1188.9,1400.7 C1194.3,1404.0 1199.3,1410.0 1204.9,1414.5 C1210.7,1419.2 1216.5,1424.4 1223.2,1428.2 C1230.1,1432.1 1238.0,1434.5 1246.0,1437.3 C1254.7,1440.3 1264.3,1442.6 1273.5,1445.3" fill="none" stroke="#e452e4" stroke-width="2.8" stroke-linejoin="round" stroke-linecap="round"/>
<path d="M163.0,1612.5 C192.0,1612.5 220.0,1612.9 250.0,1612.5 C282.2,1612.1 322.4,1611.2 350.0,1610.0 C369.5,1609.2 383.4,1608.5 400.0,1607.0 C416.7,1605.5 437.1,1602.4 450.0,1601.0 C458.2,1600.1 463.0,1600.5 470.0,1599.2 C478.0,1597.7 487.6,1594.9 495.1,1591.7 C501.7,1588.9 506.9,1586.0 512.7,1581.6 C519.5,1576.4 526.2,1568.5 532.8,1561.5 C539.6,1554.3 546.6,1546.8 552.9,1538.9 C559.2,1530.9 565.1,1522.5 570.5,1513.8 C576.0,1505.0 580.5,1495.4 585.5,1486.2 C590.5,1477.0 595.9,1467.6 600.6,1458.6 C605.1,1450.1 609.3,1440.4 613.1,1433.5 C615.8,1428.5 617.6,1424.3 620.7,1420.9 C623.6,1417.7 627.0,1413.9 630.7,1413.4 C634.5,1412.9 639.3,1415.5 643.3,1418.4 C648.6,1422.2 653.4,1430.7 658.3,1436.0 C662.6,1440.6 666.5,1445.6 670.9,1448.5 C674.5,1450.9 678.3,1453.2 682.2,1453.0 C686.6,1452.8 691.0,1448.1 696.0,1446.0 C701.4,1443.7 707.9,1440.0 713.6,1439.7 C718.8,1439.4 723.7,1441.2 728.7,1443.5 C734.6,1446.2 740.2,1452.5 746.2,1456.1 C751.9,1459.5 757.8,1462.9 763.8,1464.8 C769.5,1466.6 775.8,1467.7 781.4,1467.4 C786.7,1467.1 791.5,1465.9 796.5,1463.6 C802.4,1460.9 808.1,1455.7 814.0,1451.0 C820.6,1445.8 827.5,1439.7 834.1,1433.5 C840.9,1427.1 847.5,1419.1 854.2,1413.4 C860.1,1408.4 865.4,1403.7 871.8,1400.8 C878.0,1397.9 886.4,1394.9 891.9,1395.8 C896.3,1396.5 899.4,1399.4 902.9,1403.0 C907.9,1408.2 912.2,1417.8 916.6,1425.9 C921.3,1434.6 925.6,1444.5 930.3,1453.4 C934.8,1462.0 939.1,1470.5 944.1,1478.5 C949.0,1486.4 954.1,1494.8 960.1,1501.4 C965.7,1507.6 972.5,1512.3 978.4,1517.4 C983.9,1522.2 988.6,1527.5 994.4,1531.1 C1000.1,1534.6 1006.1,1537.5 1012.7,1539.1 C1019.8,1540.8 1028.0,1540.1 1035.6,1540.3 C1043.2,1540.5 1051.3,1539.0 1058.4,1540.3 C1065.0,1541.5 1070.4,1545.0 1076.7,1547.2 C1083.3,1549.5 1090.3,1554.2 1097.3,1554.0 C1104.8,1553.8 1113.0,1547.7 1120.2,1544.9 C1126.6,1542.4 1132.3,1539.5 1138.5,1538.0 C1144.5,1536.5 1150.5,1535.4 1156.8,1535.7 C1163.5,1536.0 1170.9,1538.0 1177.4,1540.3 C1183.8,1542.6 1189.9,1545.9 1195.7,1549.4 C1201.4,1552.8 1206.0,1557.5 1211.7,1560.9 C1217.5,1564.4 1223.6,1567.9 1230.0,1570.0 C1236.5,1572.1 1243.6,1572.0 1250.6,1573.5 C1258.1,1575.1 1265.9,1577.3 1273.5,1579.2" fill="none" stroke="#4440cc" stroke-width="2.8" stroke-linejoin="round" stroke-linecap="round"/>
<path d="M163.0,1737.2 C168.7,1737.5 173.2,1738.1 180.0,1738.0 C190.3,1737.8 208.2,1734.5 218.7,1734.6 C225.9,1734.7 230.1,1736.5 237.0,1736.7 C246.0,1737.0 256.6,1735.1 268.0,1734.9 C281.8,1734.6 303.4,1735.1 314.0,1735.6 C319.7,1735.9 321.7,1737.1 327.0,1736.7 C335.7,1736.1 349.9,1729.8 361.0,1728.7 C371.4,1727.6 381.5,1729.1 391.7,1729.5 C402.0,1729.9 413.7,1730.5 422.5,1731.0 C429.2,1731.4 433.8,1732.2 440.0,1732.1 C447.0,1732.0 454.9,1731.4 462.2,1729.9 C469.7,1728.4 477.5,1725.9 484.4,1723.2 C490.8,1720.7 496.6,1717.9 502.2,1714.4 C507.7,1710.9 512.8,1707.0 517.7,1702.1 C523.2,1696.5 527.9,1689.2 533.2,1682.2 C539.0,1674.5 545.3,1665.7 551.0,1657.7 C556.4,1650.1 561.5,1641.5 566.6,1635.5 C570.5,1630.9 574.3,1628.6 578.0,1624.3 C582.3,1619.3 586.6,1613.3 590.5,1606.7 C595.0,1599.2 598.9,1590.0 603.1,1581.6 C607.3,1573.2 610.9,1563.1 615.7,1556.5 C619.5,1551.2 623.2,1545.7 628.2,1544.0 C633.2,1542.3 640.3,1544.8 645.8,1546.5 C651.2,1548.2 656.0,1552.3 660.9,1554.0 C665.2,1555.5 669.4,1557.5 673.4,1556.5 C677.9,1555.4 682.0,1551.1 686.0,1546.5 C691.4,1540.4 695.0,1527.9 701.0,1521.4 C706.1,1515.8 712.7,1509.7 718.6,1508.8 C723.6,1508.0 728.7,1511.2 733.7,1513.8 C739.6,1516.8 745.0,1523.0 751.3,1526.4 C757.6,1529.7 764.6,1533.5 771.4,1533.9 C778.0,1534.3 784.8,1531.8 791.4,1528.9 C799.0,1525.5 806.9,1519.3 814.0,1513.8 C821.1,1508.4 827.7,1502.9 834.1,1496.2 C841.1,1488.8 847.8,1479.6 854.2,1471.1 C860.4,1462.8 866.5,1454.0 871.8,1446.0 C876.4,1439.0 879.9,1431.2 884.4,1425.9 C888.1,1421.6 892.0,1416.1 896.0,1415.6 C899.7,1415.1 904.1,1418.2 907.5,1421.3 C912.0,1425.3 915.4,1432.4 918.9,1439.6 C923.2,1448.6 926.5,1460.0 930.3,1471.7 C934.8,1485.5 939.3,1503.1 944.1,1517.4 C948.5,1530.4 952.7,1543.4 957.8,1554.0 C962.0,1562.7 966.3,1569.4 971.5,1576.9 C976.9,1584.7 983.5,1592.8 989.8,1599.8 C995.7,1606.4 1001.7,1613.0 1008.1,1618.1 C1013.9,1622.7 1020.8,1626.9 1026.4,1629.5 C1030.7,1631.4 1033.8,1632.0 1038.3,1633.2 C1044.0,1634.7 1051.5,1635.6 1058.1,1637.2 C1064.7,1638.9 1071.8,1640.5 1077.9,1643.1 C1083.6,1645.5 1088.5,1650.0 1093.7,1652.0 C1098.3,1653.8 1102.6,1655.4 1107.5,1655.0 C1113.6,1654.5 1120.8,1650.0 1127.3,1647.1 C1134.0,1644.1 1141.0,1640.0 1147.1,1637.2 C1152.1,1634.9 1155.9,1633.2 1161.0,1631.2 C1167.0,1628.9 1174.5,1624.4 1180.7,1624.3 C1186.3,1624.2 1191.3,1626.5 1196.6,1629.3 C1203.2,1632.8 1210.0,1639.1 1216.4,1645.1 C1223.2,1651.5 1229.1,1661.0 1236.1,1666.8 C1242.3,1671.9 1249.4,1675.0 1255.9,1678.7 C1262.0,1682.2 1267.8,1685.3 1273.7,1688.6" fill="none" stroke="#3f9146" stroke-width="2.8" stroke-linejoin="round" stroke-linecap="round"/>
<path d="M163.0,1859.2 C170.2,1858.8 176.2,1858.6 184.7,1858.0 C197.0,1857.2 217.0,1854.5 229.5,1854.6 C238.5,1854.7 245.0,1856.9 252.7,1856.9 C260.4,1856.9 267.1,1854.8 275.8,1854.6 C287.0,1854.4 300.0,1856.4 314.4,1856.9 C332.5,1857.5 362.2,1856.6 376.0,1857.2 C383.0,1857.5 385.6,1858.8 391.7,1858.4 C400.3,1857.8 413.7,1853.2 422.5,1851.5 C429.1,1850.2 433.8,1849.8 440.0,1848.7 C447.0,1847.4 454.8,1846.0 462.2,1844.2 C469.6,1842.3 477.1,1840.2 484.4,1837.6 C491.9,1835.0 500.0,1831.9 506.6,1828.7 C512.3,1825.9 517.6,1823.5 522.1,1819.8 C526.5,1816.1 529.5,1811.5 533.2,1806.5 C537.6,1800.6 542.3,1793.6 546.6,1786.5 C551.2,1778.9 555.5,1770.2 559.9,1762.1 C564.3,1754.0 568.7,1745.6 573.2,1737.7 C577.6,1730.1 582.2,1723.3 586.5,1715.5 C591.1,1707.1 595.4,1697.5 599.9,1688.8 C604.3,1680.4 608.6,1671.1 613.2,1664.4 C616.8,1659.1 620.8,1653.7 624.3,1651.1 C626.6,1649.4 628.5,1648.2 630.9,1648.4 C634.2,1648.7 638.4,1652.2 642.0,1655.5 C646.7,1659.8 650.8,1667.8 655.4,1673.3 C659.7,1678.5 664.0,1684.9 668.7,1687.7 C672.3,1689.8 675.9,1691.0 679.8,1690.6 C684.6,1690.2 689.9,1685.6 695.3,1683.3 C701.0,1680.9 707.6,1676.9 713.1,1676.6 C717.8,1676.3 721.9,1677.7 726.4,1680.0 C732.3,1683.1 738.2,1690.6 744.2,1695.5 C750.0,1700.2 755.2,1705.5 761.9,1708.8 C769.1,1712.3 778.6,1715.3 786.4,1715.5 C793.4,1715.7 800.2,1714.1 806.3,1711.0 C812.9,1707.7 818.5,1701.0 824.1,1695.5 C829.6,1690.0 834.1,1683.2 839.6,1677.7 C845.2,1672.2 850.6,1666.3 857.4,1662.2 C864.6,1657.9 875.3,1654.1 881.8,1652.9 C885.8,1652.2 888.5,1651.9 891.9,1653.0 C896.4,1654.5 901.4,1658.7 905.7,1662.9 C910.7,1667.7 915.4,1674.1 919.6,1680.7 C924.1,1687.8 927.6,1696.0 931.4,1704.4 C935.6,1713.7 939.1,1724.8 943.3,1734.1 C947.1,1742.6 950.9,1750.9 955.2,1757.9 C958.9,1763.9 962.2,1769.4 967.1,1773.7 C972.1,1778.0 978.4,1780.5 984.9,1783.6 C992.1,1787.1 1000.7,1791.2 1008.6,1793.5 C1015.9,1795.6 1023.0,1796.6 1030.4,1797.4 C1038.1,1798.2 1046.7,1797.0 1054.1,1798.4 C1061.1,1799.8 1067.2,1803.7 1073.9,1805.4 C1080.4,1807.0 1087.1,1808.6 1093.7,1808.3 C1100.3,1808.0 1106.7,1805.9 1113.5,1803.4 C1121.2,1800.6 1129.5,1794.2 1137.2,1791.5 C1143.9,1789.2 1150.8,1787.3 1157.0,1787.5 C1162.6,1787.6 1167.2,1789.2 1172.8,1791.5 C1180.1,1794.5 1189.0,1800.9 1196.6,1805.4 C1203.5,1809.5 1209.8,1813.2 1216.4,1817.2 C1223.0,1821.1 1229.3,1826.6 1236.1,1829.1 C1242.5,1831.4 1249.5,1831.2 1255.9,1832.0 C1262.0,1832.8 1267.8,1833.3 1273.7,1834.0" fill="none" stroke="#e4405a" stroke-width="2.8" stroke-linejoin="round" stroke-linecap="round"/>
<path d="M1375.0,1694.5 C1390.1,1693.9 1404.7,1693.3 1420.2,1692.8 C1436.5,1692.2 1453.7,1691.9 1470.5,1691.2 C1487.2,1690.5 1504.0,1689.5 1520.7,1688.7 C1537.5,1687.9 1556.5,1687.2 1571.0,1686.5 C1582.0,1686.0 1590.2,1685.6 1600.0,1685.0 C1609.9,1684.4 1620.1,1684.5 1630.1,1682.8 C1640.2,1681.1 1650.8,1677.4 1660.3,1674.5 C1668.8,1671.9 1677.3,1669.4 1684.4,1666.4 C1690.4,1663.9 1695.0,1661.9 1700.4,1658.4 C1706.9,1654.2 1713.9,1647.9 1720.5,1642.3 C1727.3,1636.6 1734.1,1630.8 1740.6,1624.3 C1747.5,1617.5 1754.7,1609.3 1760.7,1602.2 C1765.9,1596.0 1770.1,1590.3 1774.7,1584.1 C1779.5,1577.6 1784.6,1570.9 1788.8,1564.0 C1793.0,1557.2 1796.4,1550.0 1800.0,1543.0 C1803.6,1536.0 1806.7,1529.5 1810.6,1522.0 C1815.1,1513.3 1820.4,1503.5 1825.7,1494.0 C1831.2,1484.1 1837.6,1473.8 1843.2,1463.9 C1848.5,1454.5 1853.4,1444.7 1858.3,1436.3 C1862.6,1429.0 1866.3,1422.5 1870.9,1416.2 C1875.5,1410.0 1880.4,1402.6 1885.9,1398.6 C1890.6,1395.2 1895.5,1393.8 1901.0,1392.3 C1907.1,1390.7 1914.6,1390.7 1921.1,1389.8 C1927.2,1389.0 1933.5,1389.3 1938.7,1387.3 C1943.5,1385.4 1947.5,1382.2 1951.2,1378.5 C1955.2,1374.4 1958.2,1369.3 1961.3,1363.5 C1965.1,1356.4 1968.2,1347.6 1971.3,1338.3 C1975.0,1327.1 1978.2,1314.2 1981.4,1300.7 C1985.0,1285.2 1988.5,1267.3 1991.4,1250.5 C1994.3,1233.8 1995.7,1213.5 1998.9,1200.2 C2001.1,1191.1 2003.8,1177.7 2006.5,1177.6 C2008.9,1177.5 2011.9,1187.5 2014.0,1195.2 C2017.6,1208.3 2019.1,1230.6 2021.5,1250.5 C2024.2,1273.6 2026.7,1298.9 2029.1,1325.8 C2031.8,1356.8 2033.9,1395.1 2036.6,1426.2 C2038.9,1453.1 2041.1,1480.0 2044.1,1501.6 C2046.4,1518.1 2048.4,1530.5 2051.7,1545.0 C2055.1,1559.9 2058.4,1577.5 2064.2,1590.0 C2069.0,1600.2 2075.0,1609.3 2081.8,1615.5 C2087.4,1620.7 2095.1,1621.6 2100.6,1626.1 C2106.2,1630.6 2110.1,1637.7 2115.1,1642.6 C2119.8,1647.2 2124.2,1653.0 2129.6,1655.0 C2134.6,1656.9 2140.3,1655.3 2146.1,1655.0 C2152.6,1654.7 2160.5,1652.6 2166.7,1652.9 C2172.0,1653.2 2176.5,1654.1 2181.2,1656.0 C2186.2,1658.1 2190.9,1662.6 2195.6,1665.3 C2199.8,1667.7 2202.9,1670.2 2208.0,1671.5 C2215.1,1673.3 2226.5,1671.9 2234.9,1672.5 C2242.2,1673.0 2248.6,1673.6 2255.5,1674.6 C2262.4,1675.6 2268.6,1678.0 2276.2,1678.7 C2285.4,1679.6 2297.8,1678.5 2307.1,1678.7 C2314.7,1678.9 2321.8,1678.9 2327.8,1679.8 C2332.5,1680.5 2335.7,1682.2 2340.2,1682.9 C2345.5,1683.7 2351.9,1683.6 2357.7,1683.9" fill="none" stroke="#e452e4" stroke-width="2.8" stroke-linejoin="round" stroke-linecap="round"/>
<path d="M1375.0,1771.5 C1387.3,1771.8 1398.2,1772.6 1411.9,1772.4 C1429.2,1772.1 1451.7,1770.0 1470.5,1769.0 C1487.9,1768.1 1504.0,1767.2 1520.7,1766.5 C1537.5,1765.7 1556.5,1765.2 1571.0,1764.5 C1582.0,1764.0 1590.2,1763.7 1600.0,1763.0 C1609.9,1762.3 1621.1,1761.9 1630.1,1760.5 C1637.5,1759.3 1643.1,1758.0 1650.2,1755.8 C1658.4,1753.3 1668.3,1749.5 1676.3,1745.8 C1683.6,1742.4 1690.3,1739.0 1696.4,1734.7 C1702.3,1730.6 1707.1,1725.8 1712.5,1720.7 C1718.4,1715.2 1724.2,1708.5 1730.5,1702.6 C1736.9,1696.5 1744.1,1691.2 1750.6,1684.5 C1757.6,1677.3 1764.9,1668.7 1770.7,1660.4 C1776.2,1652.6 1780.1,1645.0 1784.8,1636.3 C1790.1,1626.4 1795.2,1615.5 1800.8,1604.2 C1807.1,1591.6 1814.2,1576.2 1820.9,1564.0 C1826.7,1553.4 1832.4,1544.6 1838.2,1535.0 C1844.0,1525.5 1850.2,1516.7 1855.8,1506.6 C1861.9,1495.6 1867.3,1481.3 1873.4,1471.4 C1878.3,1463.5 1882.9,1454.5 1888.4,1451.4 C1892.3,1449.2 1896.5,1449.6 1901.0,1450.1 C1906.4,1450.8 1912.8,1453.8 1918.6,1456.4 C1924.6,1459.1 1930.4,1464.3 1936.2,1466.4 C1941.2,1468.2 1946.7,1470.3 1951.2,1468.9 C1956.0,1467.4 1960.1,1461.9 1963.8,1456.4 C1968.8,1448.9 1972.4,1437.1 1976.3,1426.2 C1980.8,1413.9 1985.0,1399.1 1988.9,1386.1 C1992.5,1374.0 1995.2,1359.5 1998.9,1350.9 C2001.3,1345.4 2004.0,1338.3 2006.5,1338.3 C2009.0,1338.3 2011.9,1345.3 2014.0,1350.9 C2017.5,1359.9 2019.2,1374.4 2021.5,1388.6 C2024.4,1406.8 2027.0,1430.5 2029.1,1451.4 C2031.2,1472.3 2032.5,1492.9 2034.1,1514.1 C2035.8,1535.8 2037.0,1560.8 2039.1,1580.0 C2040.8,1595.0 2042.4,1607.1 2045.0,1620.0 C2047.5,1632.3 2049.6,1644.6 2054.2,1655.7 C2058.6,1666.5 2064.7,1678.5 2071.8,1685.8 C2077.6,1691.8 2085.8,1693.6 2091.8,1698.4 C2097.5,1702.9 2102.7,1709.0 2106.9,1713.5 C2110.1,1717.0 2111.8,1719.9 2115.1,1723.1 C2119.1,1726.9 2124.1,1732.8 2129.6,1734.5 C2135.1,1736.2 2141.9,1733.9 2148.1,1733.4 C2154.3,1732.9 2160.9,1730.9 2166.7,1731.4 C2171.9,1731.8 2176.6,1733.3 2181.2,1735.5 C2186.2,1737.9 2190.6,1743.4 2195.6,1745.8 C2200.2,1748.0 2204.6,1749.5 2210.1,1750.0 C2217.2,1750.7 2227.0,1747.5 2234.9,1747.9 C2242.1,1748.3 2249.0,1750.5 2255.5,1752.0 C2261.3,1753.3 2265.4,1755.4 2272.0,1756.2 C2281.5,1757.4 2296.2,1756.2 2307.1,1756.2 C2316.7,1756.2 2325.3,1755.5 2334.0,1756.2 C2342.2,1756.9 2349.8,1758.9 2357.7,1760.3" fill="none" stroke="#4440cc" stroke-width="2.8" stroke-linejoin="round" stroke-linecap="round"/>
<path d="M1375.0,1842.7 C1390.1,1842.7 1404.7,1842.8 1420.2,1842.7 C1436.5,1842.6 1453.8,1842.7 1470.5,1841.9 C1487.3,1841.1 1503.9,1839.0 1520.7,1838.0 C1537.4,1837.0 1556.5,1836.7 1571.0,1836.0 C1582.0,1835.5 1590.2,1835.1 1600.0,1834.5 C1609.9,1833.9 1620.1,1833.5 1630.1,1832.3 C1640.2,1831.1 1649.6,1829.5 1660.3,1827.1 C1672.8,1824.3 1689.6,1820.9 1700.4,1816.1 C1708.6,1812.4 1713.8,1807.5 1720.5,1803.0 C1727.2,1798.5 1733.8,1793.4 1740.6,1789.0 C1747.2,1784.7 1754.1,1781.5 1760.7,1776.9 C1767.6,1772.1 1774.3,1766.7 1780.8,1760.8 C1787.6,1754.7 1794.3,1747.9 1800.8,1740.8 C1807.7,1733.3 1814.3,1724.8 1820.9,1716.7 C1827.4,1708.7 1834.4,1699.1 1840.0,1692.6 C1844.0,1687.9 1847.0,1685.4 1850.8,1680.8 C1855.5,1675.1 1861.0,1668.1 1865.8,1660.7 C1871.1,1652.4 1875.2,1641.3 1880.9,1633.1 C1886.2,1625.5 1892.2,1619.3 1898.5,1613.0 C1904.8,1606.7 1912.2,1601.4 1918.6,1595.4 C1924.8,1589.6 1931.0,1584.8 1936.2,1577.8 C1942.0,1570.0 1946.8,1560.5 1951.2,1550.2 C1956.3,1538.3 1960.1,1523.9 1963.8,1510.0 C1967.7,1495.2 1970.5,1479.6 1973.8,1463.9 C1977.2,1447.5 1980.7,1431.4 1983.9,1413.7 C1987.5,1394.0 1991.0,1371.9 1993.9,1350.9 C1996.8,1330.0 1999.0,1306.1 2001.4,1288.1 C2003.2,1274.4 2004.3,1261.2 2006.5,1252.0 C2007.9,1246.1 2009.8,1237.9 2011.5,1237.9 C2013.1,1237.9 2015.1,1244.8 2016.5,1250.5 C2019.2,1261.5 2020.0,1282.3 2021.5,1300.7 C2023.4,1323.3 2025.0,1349.9 2026.6,1376.0 C2028.4,1404.2 2029.9,1435.7 2031.6,1463.9 C2033.2,1490.2 2034.7,1518.0 2036.6,1540.0 C2038.1,1557.0 2039.5,1568.1 2041.6,1585.0 C2044.3,1607.0 2047.0,1639.6 2051.7,1660.7 C2055.2,1676.4 2058.8,1688.7 2064.2,1700.9 C2069.1,1712.0 2075.6,1721.3 2081.8,1731.0 C2087.8,1740.4 2094.7,1749.8 2100.6,1758.2 C2105.7,1765.6 2109.9,1773.1 2115.1,1778.9 C2119.6,1783.9 2124.0,1789.1 2129.6,1791.3 C2135.1,1793.5 2141.8,1792.4 2148.1,1792.3 C2154.8,1792.1 2162.6,1789.4 2168.8,1790.2 C2174.1,1790.9 2178.4,1792.8 2183.2,1795.4 C2188.8,1798.4 2194.2,1804.8 2199.8,1807.8 C2204.6,1810.4 2208.6,1811.7 2214.2,1812.9 C2221.7,1814.5 2232.4,1813.7 2241.1,1815.0 C2249.5,1816.2 2257.9,1818.8 2265.8,1820.2 C2273.0,1821.5 2279.1,1822.9 2286.5,1823.3 C2294.8,1823.7 2304.6,1821.8 2313.3,1822.2 C2321.7,1822.6 2330.3,1824.4 2338.1,1825.3 C2345.0,1826.1 2351.2,1826.7 2357.7,1827.4" fill="none" stroke="#3f9146" stroke-width="2.8" stroke-linejoin="round" stroke-linecap="round"/>
<path d="M1375.0,1912.2 C1390.1,1911.4 1404.7,1910.4 1420.2,1909.7 C1436.5,1909.0 1453.7,1908.6 1470.5,1908.0 C1487.2,1907.4 1504.0,1907.0 1520.7,1906.3 C1537.5,1905.5 1556.5,1904.2 1571.0,1903.5 C1582.0,1903.0 1590.2,1903.0 1600.0,1902.5 C1609.9,1902.0 1620.2,1902.3 1630.1,1900.5 C1640.3,1898.7 1650.4,1895.2 1660.3,1891.4 C1670.5,1887.5 1682.4,1882.0 1690.4,1877.3 C1696.1,1873.9 1699.7,1871.3 1704.4,1867.3 C1709.8,1862.8 1714.9,1857.1 1720.5,1851.2 C1726.9,1844.5 1733.9,1836.5 1740.6,1829.1 C1747.3,1821.7 1754.8,1814.4 1760.7,1807.0 C1766.0,1800.3 1770.1,1794.5 1774.7,1787.0 C1780.2,1778.1 1785.6,1767.4 1790.8,1756.8 C1796.4,1745.4 1801.7,1732.4 1806.9,1720.7 C1811.8,1709.7 1815.9,1700.1 1820.9,1688.5 C1826.8,1675.0 1834.3,1656.2 1840.0,1644.4 C1843.9,1636.2 1846.8,1631.2 1850.8,1624.0 C1855.3,1615.8 1860.8,1605.6 1865.8,1597.9 C1870.0,1591.4 1873.7,1584.7 1878.4,1580.4 C1882.2,1576.8 1886.4,1573.3 1890.9,1572.8 C1895.6,1572.3 1901.0,1575.2 1906.0,1577.8 C1911.9,1580.8 1918.1,1585.8 1923.6,1590.4 C1929.0,1595.0 1933.5,1602.4 1938.7,1605.5 C1942.8,1607.9 1947.3,1610.1 1951.2,1609.2 C1955.7,1608.2 1960.2,1603.3 1963.8,1597.9 C1969.2,1589.9 1972.6,1574.8 1976.3,1562.8 C1980.1,1550.5 1983.4,1537.6 1986.4,1525.1 C1989.3,1513.0 1991.3,1499.4 1993.9,1489.0 C1995.9,1481.0 1997.2,1472.8 2000.0,1468.0 C2001.8,1464.9 2004.5,1461.2 2006.5,1461.4 C2008.9,1461.7 2011.2,1467.4 2013.0,1472.0 C2015.8,1478.9 2017.3,1489.5 2019.0,1500.0 C2021.1,1513.2 2022.4,1526.4 2024.0,1545.0 C2026.6,1575.0 2028.7,1628.2 2031.6,1663.2 C2033.9,1691.2 2036.3,1716.0 2039.1,1738.6 C2041.4,1757.1 2042.6,1774.4 2046.6,1788.8 C2049.8,1800.3 2053.5,1811.1 2059.2,1818.9 C2064.0,1825.5 2070.6,1829.4 2076.8,1834.0 C2083.1,1838.6 2090.8,1841.7 2096.9,1846.6 C2102.9,1851.5 2107.4,1858.5 2113.0,1863.5 C2118.3,1868.2 2123.6,1873.9 2129.6,1875.9 C2135.3,1877.8 2141.8,1876.2 2148.1,1875.9 C2154.8,1875.6 2162.6,1873.3 2168.8,1873.9 C2174.1,1874.4 2178.2,1875.8 2183.2,1878.0 C2189.2,1880.6 2195.3,1887.1 2201.8,1889.3 C2207.8,1891.3 2213.7,1890.9 2220.4,1891.4 C2228.1,1892.0 2236.8,1891.4 2245.2,1892.4 C2254.0,1893.4 2262.4,1896.7 2272.0,1897.6 C2282.9,1898.6 2296.9,1897.4 2307.1,1897.6 C2314.9,1897.8 2320.3,1897.9 2327.8,1898.6 C2336.9,1899.5 2347.7,1901.4 2357.7,1902.8" fill="none" stroke="#e4405a" stroke-width="2.8" stroke-linejoin="round" stroke-linecap="round"/>
<polygon points="630.6,1193.8 625.1,1213.7 636.1,1213.7" fill="#111"/>
<line x1="630.60" y1="1212.70" x2="630.60" y2="1264.00" stroke="#333" stroke-width="1.8" />
<line x1="630.60" y1="1264.00" x2="630.60" y2="1648.00" stroke="#444" stroke-width="1.6" stroke-dasharray="2.2,2.2"/>
<polygon points="713.4,1195.4 707.9,1214.5 718.9,1214.5" fill="#111"/>
<line x1="713.40" y1="1213.50" x2="713.40" y2="1267.00" stroke="#333" stroke-width="1.8" />
<line x1="713.40" y1="1267.00" x2="713.40" y2="1676.00" stroke="#444" stroke-width="1.6" stroke-dasharray="2.2,2.2"/>
<polygon points="878.5,1173.0 873.0,1192.2 884.0,1192.2" fill="#111"/>
<line x1="878.50" y1="1191.20" x2="878.50" y2="1224.00" stroke="#333" stroke-width="1.8" />
<line x1="878.50" y1="1224.00" x2="878.50" y2="1652.00" stroke="#444" stroke-width="1.6" stroke-dasharray="2.2,2.2"/>
<polygon points="1156.9,1320.0 1151.1,1339.7 1162.7,1339.7" fill="#111"/>
<line x1="1156.90" y1="1338.70" x2="1156.90" y2="1395.00" stroke="#333" stroke-width="1.8" />
<line x1="1156.90" y1="1395.00" x2="1156.90" y2="1787.00" stroke="#444" stroke-width="1.6" stroke-dasharray="2.2,2.2"/>
<polygon points="1889.2,1341.3 1884.4,1363.4 1894.0,1363.4" fill="#111"/>
<line x1="1889.20" y1="1362.40" x2="1889.20" y2="1391.00" stroke="#333" stroke-width="1.8" />
<line x1="1889.20" y1="1391.00" x2="1889.20" y2="1615.00" stroke="#444" stroke-width="1.6" stroke-dasharray="5,4"/>
<polygon points="2006.7,1142.3 2001.9,1159.3 2011.5,1159.3" fill="#111"/>
<line x1="2006.70" y1="1158.30" x2="2006.70" y2="1178.00" stroke="#333" stroke-width="1.8" />
<line x1="2006.70" y1="1178.00" x2="2006.70" y2="1460.00" stroke="#444" stroke-width="1.6" stroke-dasharray="5,4"/></svg></body></html>
